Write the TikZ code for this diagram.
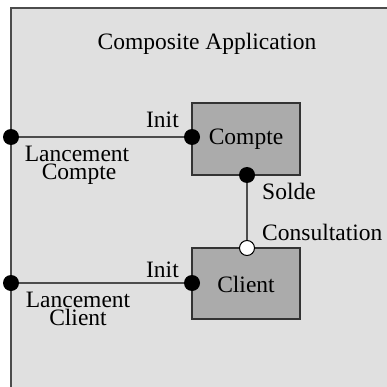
\documentclass[tikz,border=0pt]{standalone}
\usepackage{fontspec}
\setmainfont{Liberation Serif}
\begin{document}
\begin{tikzpicture}[x=1pt,y=-1pt,
  every node/.style={font=\fontsize{23.5}{18}\selectfont, inner sep=0pt},
  outer/.style={draw=black!70, line width=1.4pt},
  compbox/.style={draw=black!80, fill=black!33, line width=1.5pt},
  wire/.style={draw=black!70, line width=1.5pt},
  port/.style={circle, fill=black, minimum size=16pt, inner sep=0pt},
  openport/.style={circle, draw=black, fill=white, line width=1pt, minimum size=15pt, inner sep=0pt},
  lbl/.style={anchor=base west},
  ctr/.style={anchor=base},
  % two-line labels are set tight, so their boxes carry no extra depth/height
  upper/.style={anchor=base, text depth=0pt},
  lower/.style={anchor=base, text height=14pt}]
\useasboundingbox (0,0) rectangle (386,387);
% composite container, running off the right and bottom edges
\fill[black!12] (11,8) rectangle (400,400);
\draw[outer] (11,400) -- (11,8) -- (400,8);
\node[ctr] (title) at (207,50) {Composite Application};
% components
\draw[compbox] (192,103) rectangle (300,175);
\node[ctr] (comptetxt) at (246,145) {Compte};
\draw[compbox] (192,248) rectangle (300,319);
\node[ctr] (clienttxt) at (246,292) {Client};
% ports
\node[port] (lc) at (11,137) {};
\node[port] (ic) at (192,137) {};
\node[port] (solde) at (247,175) {};
\node[port] (lk) at (11,283) {};
\node[port] (ik) at (192,283) {};
\node[openport] (consult) at (247,248) {};
% connectors
\draw[wire] (lc) -- (ic);
\draw[wire] (lk) -- (ik);
\draw[wire] (solde) -- (consult);
% labels
\node[anchor=base east] (init1) at (179,128) {Init};
\node[anchor=base east] (init2) at (179,277) {Init};
\node[lbl] (soldetxt) at (262,199) {Solde};
\node[lbl] (consulttxt) at (262,240) {Consultation};
\node[upper] (lancc1) at (77,161) {Lancement};
\node[lower] (lancc2) at (79,179) {Compte};
\node[upper] (lanck1) at (78,307) {Lancement};
\node[lower] (lanck2) at (78,325) {Client};
\end{tikzpicture}
\end{document}
